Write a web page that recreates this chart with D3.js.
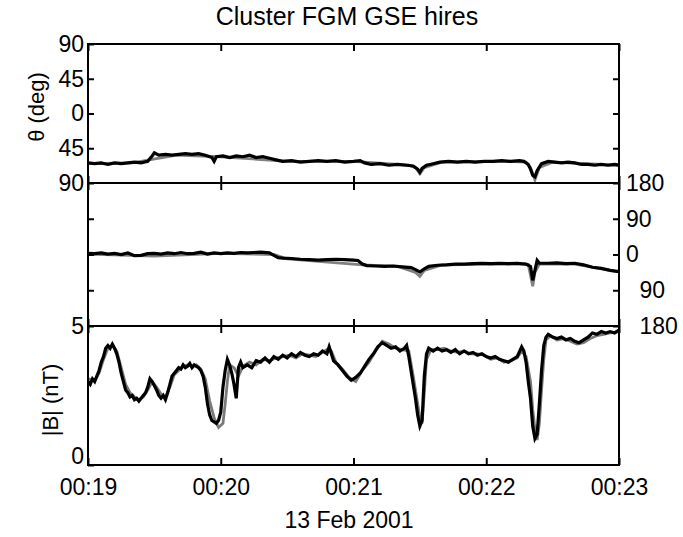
<!DOCTYPE html>
<html>
<head>
<meta charset="utf-8">
<script src="https://cdn.jsdelivr.net/npm/d3@7"></script>
<style>
  body { margin: 0; background: #fff; }
  svg text { font-family: "Liberation Sans", Arial, sans-serif; fill: #000; }
</style>
</head>
<body>
<svg id="chart" width="683" height="537"></svg>
<script>
// seconds after 00:19:00 UT, 13 Feb 2001
const thetaT = [0,3,6,9,12,15,18,21,24,27,29,30,32,35,38,41,44,47,50,53,56,57,58,61,64,67,70,73,76,79,82,85,88,92,96,100,104,108,112,116,120,123,125,128,132,136,140,144,147,149,150,151,153,156,159,163,167,171,175,179,183,187,191,195,197,199,200,201,202,203,205,208,211,214,217,220,223,226,229,232,235,238,240];
const thetaB = [-64,-65,-64,-66,-64,-65,-64,-63,-64,-62,-55,-51,-54,-53,-54,-53,-52,-53,-52,-54,-57,-62,-56,-55,-57,-55,-56,-54,-57,-56,-58,-60,-62,-61,-63,-62,-61,-62,-61,-63,-62,-61,-64,-66,-65,-67,-66,-67,-68,-72,-76,-71,-67,-65,-63,-62,-63,-62,-63,-62,-62,-61,-62,-61,-62,-66,-72,-80,-82,-74,-65,-62,-63,-64,-63,-64,-66,-66,-67,-66,-67,-66,-67];
const thetaGrayT = [0,20,40,60,90,120,145,148,150,152,160,190,198,200,202,204,210,240];
const thetaGray = [-65,-64,-54,-56,-62,-62,-67,-70,-78,-70,-63,-62,-63,-70,-86,-70,-63,-67];

const phiT = [0,3,6,9,12,15,18,21,24,27,30,33,36,39,42,45,48,51,54,57,60,63,66,69,72,75,78,82,84,86,88,92,96,100,104,108,112,116,120,122,124,126,130,134,138,142,146,148,150,152,154,158,162,166,170,174,178,182,186,190,194,198,200,201,202,203,204,208,212,216,220,224,228,232,236,240];
const phiB = [3,2,4,1,3,0,4,-3,-2,2,3,1,4,2,5,2,3,6,1,4,2,4,3,5,4,5,6,4,-2,-8,-9,-10,-12,-13,-14,-13,-12,-13,-14,-15,-24,-28,-29,-30,-29,-31,-33,-38,-44,-36,-30,-27,-26,-24,-24,-23,-22,-23,-22,-23,-22,-24,-30,-65,-40,-15,-22,-22,-21,-23,-22,-26,-32,-35,-40,-43];
const phiGrayT = [0,30,60,84,90,124,140,148,150,152,160,190,199,201,202,204,220,240];
const phiGray = [1,-4,3,0,-11,-26,-30,-45,-55,-40,-26,-24,-25,-80,-45,-24,-24,-44];

const bT = [0,1,2,3,4,5,6,7,8,9,10,11,12,13,14,15,16,17,18,19,20,21,22,23,24,25,26,27,28,29,30,31,32,33,34,35,36,37,38,39,40,41,42,43,44,45,46,47,48,49,50,51,52,53,54,55,56,57,58,59,60,61,62,63,64,65,66,67,68,69,70,72,74,76,78,80,82,84,86,88,90,92,94,96,98,100,102,104,106,108,109,110,111,113,115,117,119,120,121,123,125,127,129,131,133,135,137,139,141,143,144,145,146,147,148,149,150,151,152,153,154,156,158,160,162,164,166,168,170,172,174,176,178,180,182,184,186,188,190,192,194,196,197,198,199,200,201,202,203,204,205,206,207,208,210,212,214,216,218,220,222,224,226,228,230,232,234,236,238,240];
const bB = [3.0,2.9,3.1,3.0,3.2,3.4,3.7,3.9,4.2,4.3,4.2,4.35,4.2,4.0,3.7,3.3,3.0,2.7,2.6,2.45,2.5,2.35,2.4,2.3,2.4,2.5,2.6,2.8,3.1,3.0,2.85,2.7,2.5,2.4,2.5,2.35,2.6,2.9,3.2,3.3,3.4,3.5,3.45,3.6,3.5,3.55,3.65,3.5,3.6,3.55,3.5,3.4,3.2,2.8,2.2,1.8,1.6,1.55,1.5,1.6,1.9,2.8,3.4,3.8,3.6,3.3,2.9,2.4,3.5,3.7,3.5,3.6,3.5,3.75,3.7,3.85,3.7,3.9,3.8,3.95,3.85,4.0,3.9,4.05,3.95,3.9,4.0,3.95,4.1,4.0,4.25,4.0,3.75,3.6,3.4,3.2,3.05,3.1,3.15,3.3,3.55,3.8,4.0,4.25,4.4,4.3,4.2,4.25,4.1,4.2,4.3,3.9,3.4,2.9,2.4,1.8,1.4,1.6,3.2,4.0,4.2,4.1,4.2,4.1,4.15,4.05,4.15,4.0,4.1,4.0,4.05,3.95,4.0,3.9,3.85,3.9,3.8,3.75,3.7,3.8,3.9,4.25,4.1,3.7,3.0,2.4,1.4,0.95,1.1,2.2,3.4,4.3,4.6,4.7,4.6,4.55,4.6,4.5,4.55,4.45,4.4,4.5,4.6,4.75,4.7,4.8,4.75,4.8,4.75,4.85];
const bGrayT = [0,3,5,7,9,11,13,15,17,19,21,23,25,27,29,31,33,35,37,39,41,43,45,47,49,51,53,55,57,59,61,62,63,64,66,68,70,73,76,79,82,85,88,91,94,97,100,103,106,108,110,112,115,118,121,124,127,130,133,136,139,142,145,147,149,150,151,152,153,155,158,161,164,167,170,173,176,179,182,185,188,191,194,196,198,200,201,202,203,204,205,206,207,209,212,215,218,221,224,227,230,233,236,240];
const bGray = [3.1,3.05,3.3,3.8,4.2,4.3,4.1,3.5,2.9,2.6,2.45,2.35,2.45,2.7,3.0,2.8,2.55,2.45,2.8,3.25,3.4,3.55,3.6,3.55,3.6,3.45,3.1,2.3,1.7,1.35,1.5,2.2,3.0,3.6,3.5,3.2,3.55,3.7,3.6,3.8,3.75,3.85,3.9,3.95,3.85,4.0,3.95,3.9,4.05,4.15,4.1,3.7,3.45,3.15,3.0,3.4,3.7,4.1,4.45,4.35,4.2,4.15,4.1,3.2,2.2,1.7,1.5,2.6,3.8,4.15,4.15,4.2,4.1,4.05,4.1,4.0,4.0,3.95,3.8,3.85,3.7,3.75,3.85,4.1,3.9,3.0,2.0,1.3,0.9,1.5,2.7,3.8,4.5,4.65,4.5,4.55,4.45,4.35,4.4,4.55,4.65,4.7,4.75,4.8];

const thetaTicks = [90, 45, 0, -45, -90];
const phiTicks = [180, 90, 0, -90, -180];
const bTicks = [0, 5];

const svg = d3.select("#chart");
const left = 88, right = 619;
const start = Date.UTC(2001, 1, 13, 0, 19, 0);
const toDate = (s) => new Date(start + s * 1000);
const x = d3.scaleUtc().domain([toDate(0), toDate(240)]).range([left, right]);

const zip = (t, v) => t.map((s, i) => [s, v[i]]);

const panels = [
  { top: 44, bottom: 183, domain: [-90, 90],
    series: [[zip(thetaGrayT, thetaGray), "#808080"], [zip(thetaT, thetaB), "#000"]] },
  { top: 183, bottom: 326, domain: [-180, 180],
    series: [[zip(phiGrayT, phiGray), "#808080"], [zip(phiT, phiB), "#000"]] },
  { top: 326, bottom: 465, domain: [0, 5],
    series: [[zip(bGrayT, bGray), "#7a7a7a"], [zip(bT, bB), "#000"]] }
];

// minus sign kept as text but invisible, like the original print
function signedLabels(g) {
  g.selectAll(".tick text").each(function (d) {
    const t = d3.select(this);
    t.text(null);
    if (d < 0) t.append("tspan").attr("fill-opacity", 0).text("\u2212");
    t.append("tspan").text(Math.abs(d));
  });
}

panels.forEach((p, i) => {
  p.y = d3.scaleLinear().domain(p.domain).range([p.bottom, p.top]);

  svg.append("clipPath").attr("id", "clip" + i)
    .append("rect").attr("x", left).attr("y", p.top)
    .attr("width", right - left).attr("height", p.bottom - p.top);

  const line = d3.line().x((d) => x(toDate(d[0]))).y((d) => p.y(d[1]));
  p.series.forEach(([data, color]) => {
    svg.append("path")
      .attr("clip-path", `url(#clip${i})`)
      .attr("d", line(data))
      .attr("fill", "none")
      .attr("stroke", color)
      .attr("stroke-width", color === "#000" ? 3.2 : 2.8)
      .attr("stroke-linejoin", "miter");
  });

  svg.append("rect")
    .attr("x", left).attr("y", p.top)
    .attr("width", right - left).attr("height", p.bottom - p.top)
    .attr("fill", "none").attr("stroke", "#000").attr("stroke-width", 2);

  const xTop = d3.axisTop(x).ticks(d3.utcMinute.every(1)).tickSize(-7).tickFormat("");
  svg.append("g").attr("transform", `translate(0,${p.top})`).call(xTop);

  const xBot = d3.axisBottom(x).ticks(d3.utcMinute.every(1)).tickSize(-7)
    .tickPadding(14)
    .tickFormat(i === 2 ? d3.utcFormat("%H:%M") : "");
  svg.append("g").attr("class", "x-axis").attr("transform", `translate(0,${p.bottom})`).call(xBot);
});

// theta panel
svg.append("g").attr("transform", `translate(${left},0)`)
  .call(d3.axisLeft(panels[0].y).tickValues(thetaTicks).tickSize(-6).tickPadding(4))
  .call(signedLabels);
svg.append("g").attr("transform", `translate(${right},0)`)
  .call(d3.axisRight(panels[0].y).tickValues([45, 0, -45]).tickSize(-6).tickFormat(""));

// phi panel
svg.append("g").attr("transform", `translate(${left},0)`)
  .call(d3.axisLeft(panels[1].y).tickValues([90, 0, -90]).tickSize(-6).tickFormat(""));
svg.append("g").attr("transform", `translate(${right},0)`)
  .call(d3.axisRight(panels[1].y).tickValues(phiTicks).tickSize(-6).tickPadding(7))
  .call(signedLabels);

// |B| panel
const bAxis = svg.append("g").attr("transform", `translate(${left},0)`)
  .call(d3.axisLeft(panels[2].y).tickValues(bTicks).tickSize(-6).tickPadding(4)
    .tickFormat(d3.format("d")));
bAxis.selectAll(".tick text").filter((d) => d === 0).attr("dy", "-0.05em");

svg.selectAll(".domain").remove();
svg.selectAll(".tick line").attr("stroke", "#000").attr("stroke-width", 2);
svg.selectAll(".tick text").attr("font-size", 23).attr("font-family", null);

svg.append("text").attr("x", 347).attr("y", 25).attr("text-anchor", "middle")
  .attr("font-size", 25).text("Cluster FGM GSE hires");
svg.append("text").attr("x", 349).attr("y", 528).attr("text-anchor", "middle")
  .attr("font-size", 23).text("13 Feb 2001");
svg.append("text").attr("transform", "translate(44,107) rotate(-90)")
  .attr("text-anchor", "middle").attr("font-size", 22).text("θ (deg)");
svg.append("text").attr("transform", "translate(58,400) rotate(-90)")
  .attr("text-anchor", "middle").attr("font-size", 22).text("|B| (nT)");
</script>
</body>
</html>
